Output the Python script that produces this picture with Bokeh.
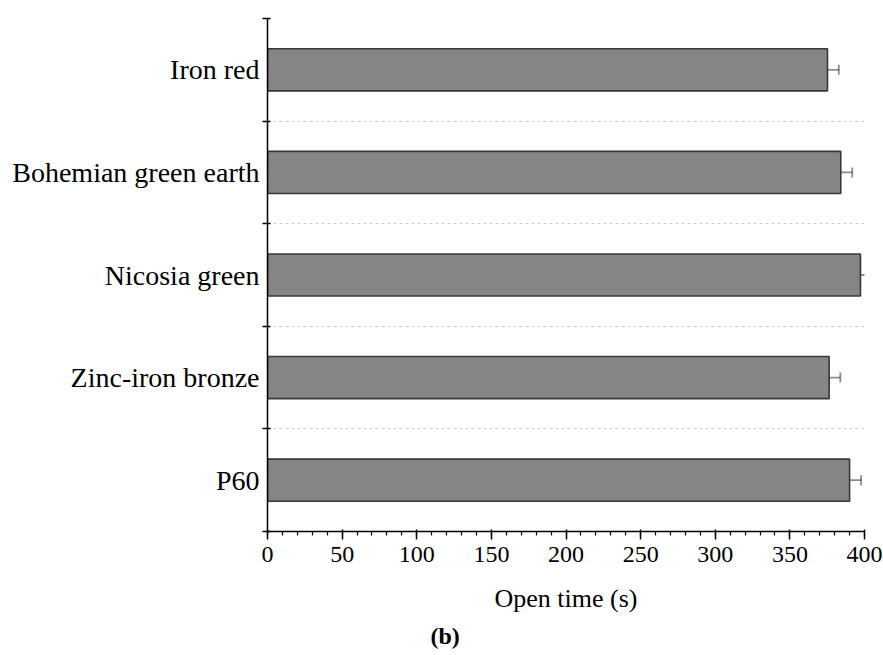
from bokeh.plotting import figure
from bokeh.models import (Range1d, FixedTicker, ColumnDataSource, Whisker, TeeHead,
                          Grid, Title)
from bokeh.embed import file_html
from bokeh.resources import INLINE

# Data (top to bottom as shown)
categories = ["Iron red", "Bohemian green earth", "Nicosia green", "Zinc-iron bronze", "P60"]
open_time = [375.2, 384.1, 397.3, 376.3, 390.0]
error = [7.6, 7.7, 8.0, 7.5, 7.7]
x_ticks = [0, 50, 100, 150, 200, 250, 300, 350, 400]

n = len(categories)
ypos = [n - i - 0.5 for i in range(n)]
src = ColumnDataSource(dict(
    y=ypos, v=open_time,
    lower=[v - e for v, e in zip(open_time, error)],
    upper=[v + e for v, e in zip(open_time, error)],
))

FONT = "Liberation Serif"

p = figure(width=883, height=655, output_backend="svg", toolbar_location=None,
           x_range=Range1d(0, 400), y_range=Range1d(0, n),
           min_border_left=267, min_border_right=19, min_border_top=18,
           min_border_bottom=124)
p.outline_line_color = None
p.background_fill_color = "white"
p.border_fill_color = "white"

p.hbar(y="y", right="v", left=0, height=0.41, source=src,
       fill_color="#858585", line_color="#383838", line_width=1.6)

ERR_ALPHA = 0.45
wh = Whisker(base="y", lower="lower", upper="upper", dimension="width", source=src,
             line_color="black", line_alpha=ERR_ALPHA, line_width=1.8,
             upper_head=TeeHead(size=10, line_color="black", line_alpha=ERR_ALPHA, line_width=1.8),
             lower_head=TeeHead(size=10, line_color="black", line_alpha=ERR_ALPHA, line_width=1.8))
p.add_layout(wh)

# x axis
xa = p.xaxis[0]
xa.ticker = FixedTicker(ticks=x_ticks, minor_ticks=list(range(0, 401, 10)))
xa.axis_line_color = "black"
xa.axis_line_width = 1.5
xa.major_tick_line_width = 1.5
xa.minor_tick_line_width = 1.2
xa.major_tick_out = 8
xa.major_tick_in = 2
xa.minor_tick_out = 4
xa.minor_tick_in = 0
xa.major_label_text_font = FONT
xa.major_label_text_font_size = "24px"
xa.major_label_text_color = "black"
xa.major_label_standoff = 7
xa.axis_label = "Open time (s)"
xa.axis_label_text_font = FONT
xa.axis_label_text_font_size = "26px"
xa.axis_label_text_font_style = "normal"
xa.axis_label_text_color = "black"
xa.axis_label_standoff = 19

# y axis
ya = p.yaxis[0]
ya.ticker = FixedTicker(ticks=ypos, minor_ticks=list(range(0, n + 1)))
ya.major_label_overrides = {y: c for y, c in zip(ypos, categories)}
ya.axis_line_color = "black"
ya.axis_line_width = 1.5
ya.major_tick_out = 0
ya.major_tick_in = 0
ya.minor_tick_out = 5
ya.minor_tick_in = 3
ya.minor_tick_line_width = 1.5
ya.major_label_text_font = FONT
ya.major_label_text_font_size = "28px"
ya.major_label_text_color = "black"
ya.major_label_standoff = 3

p.xgrid.grid_line_color = None
p.ygrid.grid_line_color = None
p.add_layout(Grid(dimension=1, ticker=FixedTicker(ticks=list(range(1, n))),
                  grid_line_color="#d0d0d0", grid_line_dash="3 3", grid_line_width=1))

cap = Title(text="(b)", align="left", offset=163, text_font=FONT,
            text_font_size="24px", text_font_style="bold", text_color="black")
p.add_layout(cap, "below")

open("out.html", "w").write(file_html(p, INLINE))
